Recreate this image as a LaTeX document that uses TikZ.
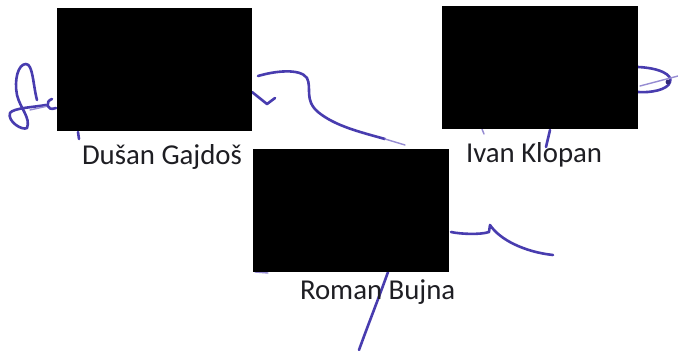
\documentclass[tikz,border=0pt]{standalone}
\usepackage{fontspec}
\setmainfont{Carlito}
\definecolor{inkblue}{RGB}{72,60,175}
\definecolor{inkfaint}{RGB}{150,140,210}
\definecolor{txt}{RGB}{30,30,35}
\begin{document}
\begin{tikzpicture}[x=1pt,y=-1pt,
  ink/.style={draw=inkblue,line width=2.6pt,line cap=round,line join=round},
  faint/.style={draw=inkfaint,line width=1.4pt,line cap=round},
  redact/.style={fill=black,draw=none,inner sep=0pt,outer sep=0pt,minimum width=196pt,minimum height=123pt},
  signame/.style={anchor=base west,inner sep=0pt,outer sep=0pt,text=txt,font=\fontsize{28.8}{32}\selectfont}]
\useasboundingbox[fill=white] (0,0) rectangle (678,351);
% signature strokes (drawn beneath the redaction boxes)
\draw[ink] (37,100) .. controls (33,85) and (33,64) .. (26,64)
  .. controls (18,64) and (14,80) .. (17,95)
  .. controls (20,108) and (31,118) .. (27,128)
  .. controls (22,131) and (7,121) .. (10,113)
  .. controls (13,108) and (35,107) .. (46,105);
\draw[faint] (30,110) -- (48,106);
\draw[ink] (52,99) .. controls (45,101) and (46,112) .. (56,108);
\draw[ink] (78,132) -- (79,139);
\draw[ink] (258,76) .. controls (275,71) and (300,68) .. (307,78)
  .. controls (312,88) and (304,100) .. (318,112)
  .. controls (335,126) and (360,132) .. (385,139);
\draw[faint] (385,139) -- (405,145);
\draw[ink] (252,92) -- (267,104) -- (275,98);
\draw[ink] (638,67) .. controls (660,68) and (673,75) .. (670,82)
  .. controls (668,90) and (650,93) .. (638,92);
\draw[faint] (640,86) -- (678,76);
\fill[inkblue!70!black] (668,82) circle (2.4pt);
\draw[ink] (550,130) -- (546,147);
\draw[faint] (482,129) -- (484,134);
\draw[ink] (451,232) .. controls (460,234) and (480,235) .. (489,232) -- (490,225)
  .. controls (500,240) and (525,252) .. (553,255);
\draw[ink] (388,272) .. controls (378,300) and (368,325) .. (359,350);
\draw[faint] (255,272) -- (268,273);
% redaction boxes
\node[redact,minimum width=195pt] (b1) at (154.5,69.5) {};
\node[redact] (b2) at (540,67.5) {};
\node[redact] (b3) at (351,210.5) {};
% names
\node[signame] (n1) at (82,164.3) {Dušan Gajdoš};
\node[signame] (n2) at (466,162.7) {Ivan Klopan};
\node[signame] (n3) at (300,299.7) {Roman Bujna};
\end{tikzpicture}
\end{document}
